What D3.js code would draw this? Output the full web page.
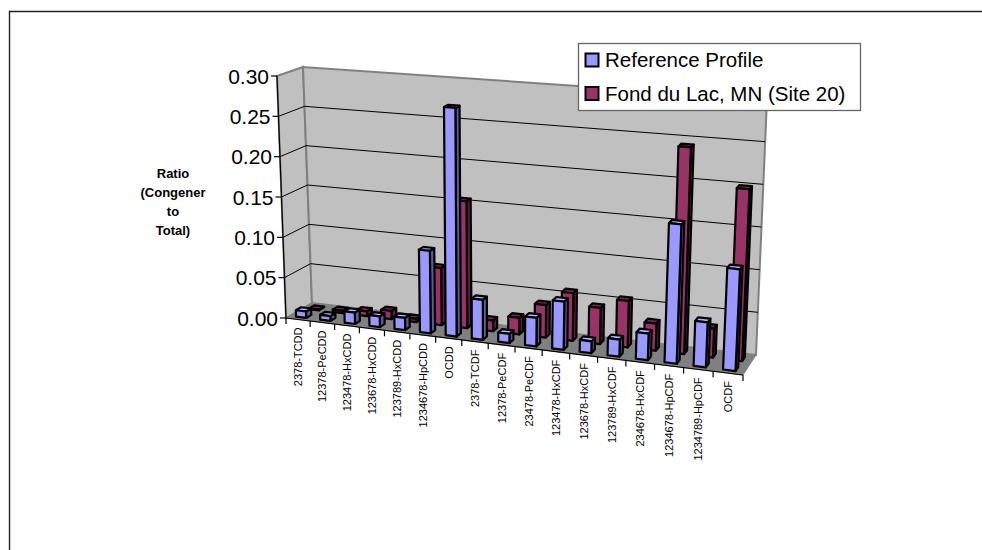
<!DOCTYPE html>
<html>
<head>
<meta charset="utf-8">
<script src="https://cdnjs.cloudflare.com/ajax/libs/d3/7.8.5/d3.min.js"></script>
<style>
  html, body { margin: 0; padding: 0; background: #fff; }
  svg { display: block; }
  text { font-family: "Liberation Sans", Arial, sans-serif; fill: #000; }
</style>
</head>
<body>
<div id="chart"></div>
<script>
const categories = ['2378-TCDD', '12378-PeCDD', '123478-HxCDD', '123678-HxCDD', '123789-HxCDD', '1234678-HpCDD', 'OCDD',
  '2378-TCDF', '12378-PeCDF', '23478-PeCDF', '123478-HxCDF', '123678-HxCDF', '123789-HxCDF', '234678-HxCDF',
  '1234678-HpCDF', '1234789-HpCDF', 'OCDF'];
const referenceProfile = [0.008, 0.006, 0.014, 0.013, 0.015, 0.1, 0.276, 0.048, 0.011, 0.034, 0.057, 0.014, 0.02, 0.031, 0.162, 0.052, 0.117];
const fondDuLac = [0.001, 0.003, 0.006, 0.01, 0.004, 0.07, 0.155, 0.013, 0.02, 0.039, 0.057, 0.043, 0.055, 0.032, 0.243, 0.034, 0.2];
const yTicks = [0, 0.05, 0.1, 0.15, 0.2, 0.25, 0.3];
const yTitle = ['Ratio', '(Congener', 'to', 'Total)'];
const seriesNames = ['Reference Profile', 'Fond du Lac, MN (Site 20)'];

const width = 982, height = 550;
const svg = d3.select('#chart').append('svg').attr('width', width).attr('height', height);

// box corners, f = front, b = back, l/r, 0 = floor, 1 = top
const corners = {
  fl0: [286, 318], fr0: [743, 375], bl0: [312, 303], br0: [756, 355],
  fl1: [277, 76], fr1: [755, 113], bl1: [303, 67], br1: [767, 99]
};
const y = d3.scaleLinear().domain([0, 0.3]).range([0, 1]);
const depth = 1.12;  // perspective along the category axis
const u = d3.scaleLinear().domain([0, categories.length]).range([0, 1]);
const persp = (t) => t / (t + (1 - t) * depth);

const mix = (a, b, t) => [a[0] + (b[0] - a[0]) * t, a[1] + (b[1] - a[1]) * t];
function project(cat, d, v) {
  const s = persp(u(cat)), h = y(v);
  const front = mix(mix(corners.fl0, corners.fr0, s), mix(corners.fl1, corners.fr1, s), h);
  const back = mix(mix(corners.bl0, corners.br0, s), mix(corners.bl1, corners.br1, s), h);
  return mix(front, back, d);
}
const n = categories.length;
const poly = (pts) => 'M' + pts.map(p => p.join(',')).join('L') + 'Z';

// walls and floor
const walls = svg.append('g');
walls.append('path').attr('d', poly([project(0, 0, 0), project(0, 1, 0), project(n, 1, 0), project(n, 0, 0)]))
  .attr('fill', '#808080').attr('stroke', '#808080');
walls.append('path').attr('d', poly([project(0, 0, 0), project(0, 0, 0.3), project(0, 1, 0.3), project(0, 1, 0)]))
  .attr('fill', '#c0c0c0').attr('stroke', '#808080').attr('stroke-width', 2);
walls.append('path').attr('d', poly([project(0, 1, 0), project(0, 1, 0.3), project(n, 1, 0.3), project(n, 1, 0)]))
  .attr('fill', '#c0c0c0').attr('stroke', '#808080').attr('stroke-width', 2);

// gridlines along both walls
yTicks.slice(1, -1).forEach(t => {
  walls.append('path').attr('d', d3.line()([project(0, 0, t), project(0, 1, t), project(n, 1, t)]))
    .attr('fill', 'none').attr('stroke', '#000').attr('stroke-width', 1);
});

// axes
const axes = svg.append('g').attr('stroke', '#000').attr('stroke-width', 1.2).attr('fill', 'none');
axes.append('path').attr('d', d3.line()([project(0, 0, 0), project(0, 0, 0.3)]));
axes.append('path').attr('d', d3.line()([project(0, 0, 0), project(n, 0, 0)]));
yTicks.forEach(t => {
  const p = project(0, 0, t);
  axes.append('path').attr('d', d3.line()([[p[0] - 6, p[1]], p]));
  svg.append('text').attr('x', p[0] - 8).attr('y', p[1]).attr('dy', '0.36em')
    .attr('text-anchor', 'end').style('font-size', '21px').text(t.toFixed(2));
});
d3.range(n + 1).forEach(i => {
  const p = project(i, 0, 0);
  axes.append('path').attr('d', d3.line()([p, [p[0], p[1] + 6]]));
});
categories.forEach((c, i) => {
  const p = project(i + 0.5, 0, 0);
  svg.append('text').attr('transform', `translate(${p[0] + 4},${p[1] + 8}) rotate(-90)`)
    .attr('text-anchor', 'end').style('font-size', '11px').text(c);
});

// bars
const palettes = [
  { front: '#9999ff', side: '#5c5c99', top: '#b3b3ff' },
  { front: '#993366', side: '#5c1f3d', top: '#7a2952' }
];
function drawBar(i, v, d0, d1, pal) {
  const a = 0.27, b = 0.69;
  const g = svg.append('g').attr('stroke', '#000').attr('stroke-width', 2.2).attr('stroke-linejoin', 'round');
  g.append('path').attr('d', poly([project(i + b, d0, 0), project(i + b, d1, 0), project(i + b, d1, v), project(i + b, d0, v)])).attr('fill', pal.side);
  g.append('path').attr('d', poly([project(i + a, d0, v), project(i + b, d0, v), project(i + b, d1, v), project(i + a, d1, v)])).attr('fill', pal.top);
  g.append('path').attr('d', poly([project(i + a, d0, 0), project(i + b, d0, 0), project(i + b, d0, v), project(i + a, d0, v)])).attr('fill', pal.front);
}
d3.range(n - 1, -1, -1).forEach(i => drawBar(i, fondDuLac[i], 0.64, 0.84, palettes[1]));
d3.range(n - 1, -1, -1).forEach(i => drawBar(i, referenceProfile[i], 0.14, 0.34, palettes[0]));

// y title
yTitle.forEach((t, i) => {
  svg.append('text').attr('x', 173).attr('y', 178 + i * 19)
    .attr('text-anchor', 'middle').style('font-size', '13px').style('font-weight', 'bold').text(t);
});

// legend
svg.append('rect').attr('x', 578.5).attr('y', 43.5).attr('width', 282).attr('height', 67)
  .attr('fill', '#fff').attr('stroke', '#666').attr('stroke-width', 1.3);
seriesNames.forEach((name, i) => {
  const ly = 60 + i * 33.5;
  svg.append('rect').attr('x', 585.5).attr('y', ly - 6.5).attr('width', 13).attr('height', 13)
    .attr('fill', palettes[i].front).attr('stroke', '#000').attr('stroke-width', 2);
  svg.append('text').attr('x', 605).attr('y', ly).attr('dy', '0.36em').style('font-size', '20.5px').text(name);
});

// chart frame, open on the right and at the bottom
svg.append('path').attr('d', 'M9.5,550V11.5H982').attr('fill', 'none').attr('stroke', '#222').attr('stroke-width', 1.4);
</script>
</body>
</html>
